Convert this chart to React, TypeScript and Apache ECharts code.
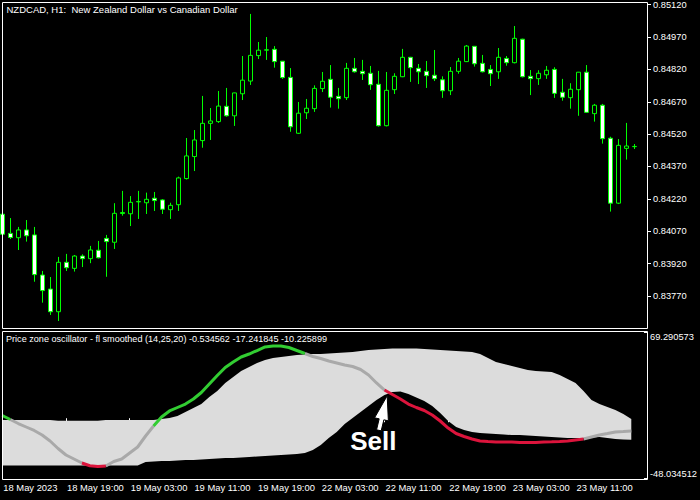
import React, { useEffect, useRef } from "react";
import * as echarts from "echarts";

// ---------- texts ----------
const symbolTitle = "NZDCAD, H1:  New Zealand Dollar vs Canadian Dollar";
const indicatorName = "Price zone oscillator - fl smoothed (14,25,20)";
const firstDateLabel = "18 May 2023";

// ---------- price (H1 candles) ----------
const opens = [
  0.84149, 0.84060, 0.84040, 0.84076, 0.84053, 0.83867, 0.83802, 0.83697, 0.83926, 0.83898,
  0.83955, 0.83943, 0.83982, 0.84037, 0.84019, 0.84152, 0.84151, 0.84206, 0.84202, 0.84223,
  0.84215, 0.84170, 0.84193, 0.84314, 0.84416, 0.84490, 0.84570, 0.84578, 0.84649, 0.84605,
  0.84707, 0.84766, 0.84884, 0.84909, 0.84913, 0.84858, 0.84783, 0.84524, 0.84619, 0.84638,
  0.84731, 0.84774, 0.84695, 0.84689, 0.84825, 0.84811, 0.84802, 0.84751, 0.84559, 0.84726,
  0.84786, 0.84876, 0.84825, 0.84811, 0.84793, 0.84772, 0.84721, 0.84811, 0.84856, 0.84927,
  0.84848, 0.84820, 0.84809, 0.84871, 0.84851, 0.84960, 0.84788, 0.84777, 0.84795, 0.84820,
  0.84714, 0.84689, 0.84726, 0.84807, 0.84615, 0.84654, 0.84501, 0.84200, 0.84454, 0.84462,
];
const closes = [
  0.84056, 0.84041, 0.84076, 0.84049, 0.83869, 0.83795, 0.83697, 0.83926, 0.83901, 0.83955,
  0.83943, 0.83983, 0.83947, 0.84022, 0.84153, 0.84157, 0.84204, 0.84208, 0.84218, 0.84212,
  0.84172, 0.84190, 0.84317, 0.84419, 0.84493, 0.84570, 0.84581, 0.84650, 0.84605, 0.84711,
  0.84770, 0.84885, 0.84909, 0.84911, 0.84856, 0.84782, 0.84554, 0.84617, 0.84640, 0.84732,
  0.84765, 0.84691, 0.84684, 0.84825, 0.84809, 0.84800, 0.84749, 0.84559, 0.84723, 0.84788,
  0.84876, 0.84828, 0.84809, 0.84791, 0.84777, 0.84721, 0.84811, 0.84858, 0.84928, 0.84846,
  0.84809, 0.84800, 0.84876, 0.84851, 0.84964, 0.84786, 0.84777, 0.84802, 0.84816, 0.84709,
  0.84691, 0.84728, 0.84807, 0.84621, 0.84654, 0.84499, 0.84200, 0.84468, 0.84465, 0.84463,
];
const highs = [
  0.84159, 0.84131, 0.84090, 0.84122, 0.84090, 0.83886, 0.83858, 0.83951, 0.83965, 0.83960,
  0.83963, 0.84002, 0.84025, 0.84053, 0.84200, 0.84257, 0.84233, 0.84257, 0.84249, 0.84252,
  0.84219, 0.84202, 0.84323, 0.84502, 0.84539, 0.84697, 0.84641, 0.84720, 0.84734, 0.84712,
  0.84882, 0.85077, 0.84947, 0.84970, 0.84928, 0.84859, 0.84826, 0.84669, 0.84683, 0.84746,
  0.84808, 0.84840, 0.84734, 0.84850, 0.84873, 0.84864, 0.84836, 0.84813, 0.84808, 0.84802,
  0.84915, 0.84878, 0.84845, 0.84859, 0.84910, 0.84788, 0.84831, 0.84873, 0.84933, 0.84928,
  0.84887, 0.84840, 0.84919, 0.84882, 0.85021, 0.84962, 0.84817, 0.84816, 0.84836, 0.84830,
  0.84776, 0.84756, 0.84808, 0.84840, 0.84660, 0.84660, 0.84508, 0.84497, 0.84572, 0.84474,
];
const lows = [
  0.84048, 0.84034, 0.83983, 0.84022, 0.83836, 0.83739, 0.83682, 0.83654, 0.83886, 0.83883,
  0.83904, 0.83922, 0.83944, 0.83859, 0.83988, 0.84142, 0.84094, 0.84127, 0.84150, 0.84164,
  0.84150, 0.84127, 0.84164, 0.84310, 0.84349, 0.84457, 0.84493, 0.84572, 0.84601, 0.84558,
  0.84678, 0.84748, 0.84868, 0.84864, 0.84828, 0.84776, 0.84531, 0.84521, 0.84590, 0.84623,
  0.84715, 0.84643, 0.84638, 0.84678, 0.84805, 0.84771, 0.84725, 0.84555, 0.84556, 0.84706,
  0.84784, 0.84762, 0.84752, 0.84734, 0.84766, 0.84688, 0.84701, 0.84800, 0.84854, 0.84833,
  0.84806, 0.84743, 0.84776, 0.84837, 0.84848, 0.84783, 0.84701, 0.84748, 0.84776, 0.84688,
  0.84675, 0.84638, 0.84605, 0.84618, 0.84578, 0.84476, 0.84161, 0.84196, 0.84402, 0.84451,
];

const priceTicks = [0.8377, 0.8392, 0.8407, 0.8422, 0.8437, 0.8452, 0.8467, 0.8482, 0.8497, 0.8512];
const priceMin = 0.836216;
const priceMax = 0.851323;

// ---------- oscillator ----------
const oscValues = [
  2.19, -1.03, -4.24, -7.05, -9.86, -13.48, -18.3, -24.33, -29.55, -32.77,
  -35.98, -38.2, -38.8, -38.4, -34.78, -32.77, -27.95, -23.12, -14.28, -6.25,
  0.98, 5.81, 8.62, 11.43, 15.45, 20.67, 27.5, 34.33, 40.76, 45.18,
  49.2, 51.61, 54.42, 57.24, 58.04, 58.0, 56.83, 54.42, 52.01, 49.6,
  47.99, 45.99, 44.38, 42.77, 41.57, 39.15, 34.74, 28.31, 22.68, 19.06,
  15.45, 11.43, 8.62, 6.21, 2.59, -2.23, -7.86, -12.28, -14.69, -16.7,
  -18.3, -18.71, -19.11, -19.15, -19.2, -19.51, -19.6, -19.5, -19.2, -19.0,
  -18.71, -18.3, -17.5, -16.7, -15.09, -13.48, -12.28, -11.07, -10.67, -10.225899,
];
const upperZone = [
  -1.4, -1.4, -1.4, -1.4, -1.4, -1.4, -1.4, -2.0, -2.0, -2.0,
  -2.0, -2.0, -2.0, -1.4, -1.4, -1.4, -1.4, -1.4, -1.4, -1.4,
  -0.62, 0.18, 1.79, 5.0, 8.22, 11.43, 17.06, 21.88, 28.31, 33.13,
  37.95, 41.16, 44.38, 46.79, 48.4, 49.2, 50.0, 50.81, 51.21, 51.61,
  51.7, 52.01, 52.41, 52.82, 53.22, 54.02, 54.83, 55.23, 55.63, 56.03,
  56.1, 56.1, 56.0, 55.63, 55.23, 54.83, 54.42, 54.02, 53.62, 53.22,
  51.61, 48.4, 45.18, 43.57, 41.97, 40.36, 38.75, 37.95, 37.55, 37.15,
  34.74, 31.52, 28.31, 21.88, 14.65, 11.43, 9.02, 6.61, 3.39, -0.534562,
];
const lowerZone = [
  -38.0, -38.0, -38.0, -38.0, -38.0, -38.0, -38.0, -38.0, -38.0, -38.0,
  -38.0, -38.0, -38.0, -38.0, -38.0, -38.0, -38.0, -38.0, -35.18, -34.78,
  -34.37, -34.3, -33.97, -33.57, -33.5, -33.17, -32.77, -32.37, -31.96, -31.9,
  -31.56, -31.16, -30.75, -30.36, -29.95, -29.55, -29.15, -28.75, -27.95, -25.53,
  -21.52, -15.89, -11.07, -4.64, 0.18, 5.0, 9.82, 14.65, 18.66, 21.07,
  21.48, 19.47, 16.65, 13.84, 9.82, 4.2, -2.23, -7.05, -9.46, -11.07,
  -11.87, -12.28, -12.68, -13.08, -13.48, -13.5, -13.89, -14.28, -14.69, -15.09,
  -15.49, -15.89, -15.9, -15.9, -15.49, -15.09, -15.89, -16.7, -17.1, -17.241845,
];
const oscMin = -48.034512;
const oscMax = 69.290573;
const sellSignal = { index: 48, value: 18, label: "Sell" };

// ---------- time axis (hourly bars, weekend skipped) ----------
const barTimes: string[] = (() => {
  const out: string[] = [];
  let day = 18;
  let hour = 11;
  for (let i = 0; i <= opens.length; i++) {
    out.push(`${day} May ${String(hour).padStart(2, "0")}:00`);
    hour++;
    if (hour === 24) {
      hour = 0;
      day++;
      if (day === 20) day = 22;
    }
  }
  return out;
})();

const FONT = '"Liberation Sans", Arial, sans-serif';
const WHITE = "#ffffff";
const CANDLE = "#00ff00";
const ZONE_FILL = "#dcdcdc";
const NEUTRAL = "#a9a9a9";
const UP = "#32cd32";
const DOWN = "#dc143c";

export default function App() {
  const ref = useRef<HTMLDivElement>(null);

  useEffect(() => {
    if (!ref.current) return;
    const chart = echarts.init(ref.current, null, { renderer: "svg" });
    const n = opens.length;

    const candleData = opens.map((o, i) => [o, closes[i], lows[i], highs[i]]);
    const state = oscValues.map((v, i) => (v > upperZone[i] ? 1 : v < lowerZone[i] ? -1 : 0));
    const segSeries = (s: number) => {
      const d: (number | null)[] = oscValues.map(() => null);
      for (let k = 1; k < n; k++) {
        if (state[k] === s) {
          d[k - 1] = oscValues[k - 1];
          d[k] = oscValues[k];
        }
      }
      return d;
    };
    const tickEvery = (idx: number) => idx % 8 === 0 && idx < n;

    const gridLeft = 2.3;
    const gridWidth = 640;
    const gridRight = 700 - gridLeft - gridWidth;

    const labelStyle = { color: WHITE, fontFamily: FONT, fontSize: 9.3 };

    chart.setOption({
      animation: false,
      backgroundColor: "#000000",
      grid: [
        { left: gridLeft, right: gridRight, top: 2, height: 326 },
        { left: gridLeft, right: gridRight, top: 332, height: 146 },
      ],
      xAxis: [
        {
          type: "category",
          gridIndex: 0,
          data: barTimes,
          boundaryGap: false,
          axisLine: { show: false },
          axisTick: { show: false },
          axisLabel: { show: false },
          splitLine: { show: false },
        },
        {
          type: "category",
          gridIndex: 1,
          data: barTimes,
          boundaryGap: false,
          offset: 1,
          axisLine: { show: false },
          axisTick: {
            show: true,
            interval: (idx: number) => tickEvery(idx) && idx > 0,
            length: 4,
            lineStyle: { color: WHITE, width: 1 },
          },
          axisLabel: {
            ...labelStyle,
            fontSize: 9.4,
            interval: (idx: number) => tickEvery(idx),
            formatter: (v: string, idx: number) => (idx === 0 ? firstDateLabel : v),
            align: "left",
            margin: 4,
            padding: [0, 0, 0, 1],
          },
          splitLine: { show: false },
        },
      ],
      yAxis: [
        {
          type: "value",
          gridIndex: 0,
          position: "right",
          offset: 4.7,
          min: priceMin,
          max: priceMax,
          axisLine: { show: false },
          axisTick: {
            show: true,
            length: 4,
            customValues: priceTicks,
            lineStyle: { color: WHITE, width: 1 },
          },
          axisLabel: {
            ...labelStyle,
            margin: 6,
            customValues: priceTicks,
            formatter: (v: number) => v.toFixed(5),
          },
          splitLine: { show: false },
        },
        {
          type: "value",
          gridIndex: 1,
          position: "right",
          offset: 4.7,
          min: oscMin,
          max: oscMax,
          axisLine: { show: false },
          axisTick: {
            show: true,
            length: 4,
            customValues: [oscMin, oscMax],
            lineStyle: { color: WHITE, width: 1 },
          },
          axisLabel: {
            ...labelStyle,
            margin: 6,
            customValues: [oscMin, oscMax],
            formatter: (v: number) => v.toFixed(6),
            verticalAlignMinLabel: "bottom",
            verticalAlignMaxLabel: "top",
          },
          splitLine: { show: false },
        },
      ],
      series: [
        {
          type: "candlestick",
          xAxisIndex: 0,
          yAxisIndex: 0,
          data: candleData,
          barWidth: 4,
          clip: true,
          itemStyle: {
            color: "#000000",
            color0: WHITE,
            borderColor: CANDLE,
            borderColor0: CANDLE,
            borderColorDoji: CANDLE,
            borderWidth: 1,
          },
        },
        {
          type: "line",
          xAxisIndex: 1,
          yAxisIndex: 1,
          data: lowerZone,
          stack: "zone",
          stackStrategy: "all",
          symbol: "none",
          lineStyle: { opacity: 0 },
          silent: true,
        },
        {
          type: "line",
          xAxisIndex: 1,
          yAxisIndex: 1,
          data: upperZone.map((u, i) => u - lowerZone[i]),
          stack: "zone",
          stackStrategy: "all",
          symbol: "none",
          lineStyle: { opacity: 0 },
          areaStyle: { color: ZONE_FILL, opacity: 1 },
          silent: true,
        },
        ...[
          { s: 0, c: NEUTRAL },
          { s: 1, c: UP },
          { s: -1, c: DOWN },
        ].map(({ s, c }) => ({
          type: "line",
          xAxisIndex: 1,
          yAxisIndex: 1,
          data: segSeries(s),
          connectNulls: false,
          symbol: "none",
          lineStyle: { color: c, width: 3 },
          silent: true,
        })),
      ],
    });

    const p = chart.convertToPixel({ xAxisIndex: 1, yAxisIndex: 1 }, [sellSignal.index, sellSignal.value]) as number[];
    const tip = [p[0] + 2.7, p[1]];
    const arrowRel = [
      [0, 0],
      [1.2, 25],
      [-3.3, 24],
      [-6, 35],
      [-10.6, 34],
      [-8, 23],
      [-12.6, 22],
    ];
    const last = n - 1;
    const indicatorLabel = `${indicatorName} ${upperZone[last].toFixed(6)} ${lowerZone[last].toFixed(6)} ${oscValues[last].toFixed(6)}`;

    chart.setOption({
      graphic: [
        {
          type: "rect",
          silent: true,
          shape: { x: 2.5, y: 2.5, width: 645, height: 326 },
          style: { fill: "none", stroke: WHITE, lineWidth: 1 },
          z: 100,
        },
        {
          type: "rect",
          silent: true,
          shape: { x: 2.5, y: 331.5, width: 645, height: 148 },
          style: { fill: "none", stroke: WHITE, lineWidth: 1 },
          z: 100,
        },
        {
          type: "text",
          x: 6.5,
          y: 4.3,
          silent: true,
          style: { text: symbolTitle, fill: WHITE, fontFamily: FONT, fontSize: 9.5, align: "left", verticalAlign: "top" },
          z: 100,
        },
        {
          type: "text",
          x: 6,
          y: 334.5,
          silent: true,
          style: { text: indicatorLabel, fill: WHITE, fontFamily: FONT, fontSize: 9.1, align: "left", verticalAlign: "top" },
          z: 100,
        },
        {
          type: "polygon",
          silent: true,
          shape: { points: arrowRel.map(([dx, dy]) => [tip[0] + dx, tip[1] + dy]) },
          style: { fill: WHITE, stroke: "#000000", lineWidth: 1 },
          z: 100,
        },
        {
          type: "text",
          x: tip[0] - 37,
          y: tip[1] + 32.5,
          silent: true,
          style: {
            text: sellSignal.label,
            fill: WHITE,
            fontFamily: FONT,
            fontWeight: "bold",
            fontSize: 26,
            align: "left",
            verticalAlign: "top",
          },
          z: 100,
        },
      ],
    });

    return () => chart.dispose();
  }, []);

  return (
    <div
      ref={ref}
      style={{ position: "fixed", left: 0, top: 0, width: 700, height: 500, background: "#000" }}
    />
  );
}
